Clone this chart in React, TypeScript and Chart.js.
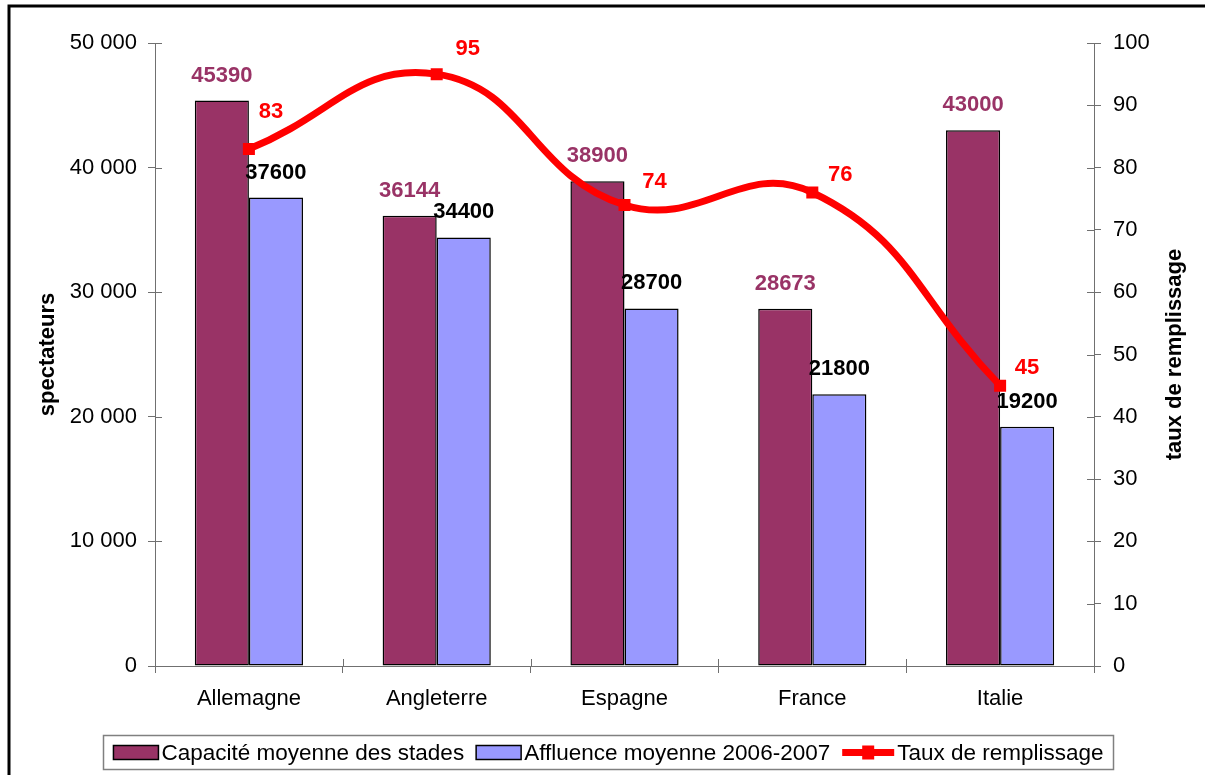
import React, { useEffect, useRef } from "react";
import { Chart, registerables } from "chart.js";

Chart.register(...registerables);

const categories = ["Allemagne", "Angleterre", "Espagne", "France", "Italie"];
const capacite = [45390, 36144, 38900, 28673, 43000];
const affluence = [37600, 34400, 28700, 21800, 19200];
const taux = [83, 95, 74, 76, 45];
const leftTickValues = [0, 10000, 20000, 30000, 40000, 50000];
const rightTickValues = [0, 10, 20, 30, 40, 50, 60, 70, 80, 90, 100];
const seriesNames = [
  "Capacité moyenne des stades",
  "Affluence moyenne 2006-2007",
  "Taux de remplissage",
];
const axisTitles = ["spectateurs", "taux de remplissage"];

// style config (label offsets relative to points)
const lineLabelOffsets = [
  [22, -37],
  [31, -25],
  [30, -23],
  [28, -18],
  [27, -18],
];

const FONT = "'Liberation Sans', Arial, sans-serif";
const COL_CAP = "#993366";
const COL_AFF = "#9999FF";
const COL_LINE = "#FF0000";
const AXIS_COL = "#707070";

const fmtThousands = (v: number) =>
  String(v).replace(/\B(?=(\d{3})+(?!\d))/g, " ");

const decorPlugin = {
  id: "decor",
  afterDatasetsDraw(chart: any) {
    const ctx = chart.ctx;
    const area = chart.chartArea;
    ctx.save();
    // inward parts of cross tick marks
    ctx.strokeStyle = AXIS_COL;
    ctx.lineWidth = 1;
    const ys = chart.scales.y;
    leftTickValues.forEach((v) => {
      const py = Math.round(ys.getPixelForValue(v)) + 0.5;
      ctx.beginPath();
      ctx.moveTo(area.left, py);
      ctx.lineTo(area.left + 7, py);
      ctx.stroke();
    });
    const y1 = chart.scales.y1;
    rightTickValues.forEach((v) => {
      const py = Math.round(y1.getPixelForValue(v)) + 0.5;
      ctx.beginPath();
      ctx.moveTo(area.right - 7, py);
      ctx.lineTo(area.right, py);
      ctx.stroke();
    });
    const xs = chart.scales.x;
    const step = (area.right - area.left) / categories.length;
    for (let i = 0; i <= categories.length; i++) {
      const px = Math.round(xs.getPixelForValue(0) - step / 2 + i * step) + 0.5;
      ctx.beginPath();
      ctx.moveTo(px, area.bottom - 7);
      ctx.lineTo(px, area.bottom);
      ctx.stroke();
    }

    // data labels
    ctx.font = `bold 22px ${FONT}`;
    ctx.textAlign = "center";
    ctx.textBaseline = "middle";
    const m0 = chart.getDatasetMeta(0);
    m0.data.forEach((el: any, i: number) => {
      ctx.fillStyle = COL_CAP;
      ctx.fillText(String(capacite[i]), el.x, el.y - 25);
    });
    const m1 = chart.getDatasetMeta(1);
    m1.data.forEach((el: any, i: number) => {
      ctx.fillStyle = "#000000";
      ctx.fillText(String(affluence[i]), el.x, el.y - 25);
    });
    const m2 = chart.getDatasetMeta(2);
    m2.data.forEach((el: any, i: number) => {
      ctx.fillStyle = COL_LINE;
      const o = lineLabelOffsets[i];
      ctx.fillText(String(taux[i]), el.x + o[0], el.y + o[1]);
    });
    ctx.restore();
  },
  afterDraw(chart: any) {
    const ctx = chart.ctx;
    const area = chart.chartArea;
    ctx.save();
    // axis titles
    ctx.font = `bold 22px ${FONT}`;
    ctx.fillStyle = "#000";
    ctx.textAlign = "center";
    ctx.textBaseline = "middle";
    const midY = (area.top + area.bottom) / 2;
    ctx.save();
    ctx.translate(48, midY);
    ctx.rotate(-Math.PI / 2);
    ctx.fillText(axisTitles[0], 0, 0);
    ctx.restore();
    ctx.save();
    ctx.translate(1175, midY);
    ctx.rotate(-Math.PI / 2);
    ctx.fillText(axisTitles[1], 0, 0);
    ctx.restore();

    // legend
    const boxL = 103.5,
      boxT = 735.5,
      boxR = 1113.5,
      boxB = 769.5;
    ctx.fillStyle = "#fff";
    ctx.fillRect(boxL, boxT, boxR - boxL, boxB - boxT);
    ctx.strokeStyle = "#808080";
    ctx.lineWidth = 1.5;
    ctx.strokeRect(boxL, boxT, boxR - boxL, boxB - boxT);
    ctx.font = `22.5px ${FONT}`;
    ctx.textAlign = "left";
    ctx.textBaseline = "middle";
    const cy = (boxT + boxB) / 2;
    const swW = 45,
      swH = 14,
      gapText = 3,
      gapItem = 12;
    const widths = seriesNames.map((n) => ctx.measureText(n).width);
    const lineW = 52;
    const total =
      swW + gapText + widths[0] + gapItem + swW + gapText + widths[1] + gapItem + lineW + gapText + widths[2];
    let x = (boxL + boxR) / 2 - total / 2;
    const swatch = (c: string) => {
      ctx.fillStyle = c;
      ctx.fillRect(x, cy - swH / 2, swW, swH);
      ctx.strokeStyle = "#000";
      ctx.lineWidth = 1.5;
      ctx.strokeRect(x, cy - swH / 2, swW, swH);
    };
    swatch(COL_CAP);
    x += swW + gapText;
    ctx.fillStyle = "#000";
    ctx.fillText(seriesNames[0], x, cy + 1);
    x += widths[0] + gapItem;
    swatch(COL_AFF);
    x += swW + gapText;
    ctx.fillStyle = "#000";
    ctx.fillText(seriesNames[1], x, cy + 1);
    x += widths[1] + gapItem;
    ctx.strokeStyle = COL_LINE;
    ctx.lineWidth = 7;
    ctx.beginPath();
    ctx.moveTo(x, cy);
    ctx.lineTo(x + lineW, cy);
    ctx.stroke();
    ctx.fillStyle = COL_LINE;
    ctx.fillRect(x + lineW / 2 - 6, cy - 7, 12, 14);
    x += lineW + gapText;
    ctx.fillStyle = "#000";
    ctx.fillText(seriesNames[2], x, cy + 1);

    // outer frame
    ctx.strokeStyle = "#000";
    ctx.lineWidth = 3;
    ctx.beginPath();
    ctx.moveTo(9, 800);
    ctx.lineTo(9, 6);
    ctx.lineTo(1300, 6);
    ctx.stroke();
    ctx.restore();
  },
};

export default function App() {
  const ref = useRef<HTMLCanvasElement | null>(null);
  useEffect(() => {
    document.body.style.margin = "0";
    document.body.style.overflow = "hidden";
    if (!ref.current) return;
    const chart = new Chart(ref.current, {
      type: "bar",
      data: {
        labels: categories,
        datasets: [
          {
            label: seriesNames[0],
            data: capacite,
            backgroundColor: COL_CAP,
            borderColor: "#000",
            borderWidth: 1.5,
            borderSkipped: false,
            categoryPercentage: 0.576,
            barPercentage: 1,
            yAxisID: "y",
            order: 2,
          },
          {
            label: seriesNames[1],
            data: affluence,
            backgroundColor: COL_AFF,
            borderColor: "#000",
            borderWidth: 1.5,
            borderSkipped: false,
            categoryPercentage: 0.576,
            barPercentage: 1,
            yAxisID: "y",
            order: 2,
          },
          {
            type: "line",
            label: seriesNames[2],
            data: taux,
            borderColor: COL_LINE,
            borderWidth: 7,
            tension: 0.45,
            pointStyle: "rect",
            pointRadius: 8.5,
            pointBackgroundColor: COL_LINE,
            pointBorderWidth: 0,
            yAxisID: "y1",
            order: 0,
          } as any,
        ],
      },
      options: {
        animation: false,
        responsive: false,
        devicePixelRatio: 1,
        layout: { padding: { top: 43, bottom: 49, left: 0, right: 0 } },
        plugins: { legend: { display: false }, tooltip: { enabled: false } },
        scales: {
          x: {
            offset: true,
            grid: { offset: true, drawOnChartArea: false, tickLength: 7, color: AXIS_COL },
            border: { color: AXIS_COL, width: 1 },
            ticks: { font: { family: FONT, size: 22 }, color: "#000", padding: 13, maxRotation: 0 },
            afterFit: (s: any) => {
              s.height = 60;
            },
          },
          y: {
            position: "left",
            min: 0,
            max: 50000,
            afterBuildTicks: (s: any) => {
              s.ticks = leftTickValues.map((v) => ({ value: v }));
            },
            grid: { drawOnChartArea: false, tickLength: 7, color: AXIS_COL },
            border: { color: AXIS_COL, width: 1 },
            ticks: {
              font: { family: FONT, size: 22 },
              color: "#000",
              padding: 11,
              callback: (v: any) => fmtThousands(Number(v)),
            },
            afterFit: (s: any) => {
              s.width = 155;
            },
          },
          y1: {
            position: "right",
            min: 0,
            max: 100,
            afterBuildTicks: (s: any) => {
              s.ticks = rightTickValues.map((v) => ({ value: v }));
            },
            grid: { drawOnChartArea: false, tickLength: 7, color: AXIS_COL },
            border: { color: AXIS_COL, width: 1 },
            ticks: { font: { family: FONT, size: 22 }, color: "#000", padding: 12 },
            afterFit: (s: any) => {
              s.width = 111;
            },
          },
        },
      },
      plugins: [decorPlugin],
    });
    return () => chart.destroy();
  }, []);
  return (
    <div style={{ position: "fixed", left: 0, top: 0, width: 1205, height: 775, background: "#fff" }}>
      <canvas ref={ref} width={1205} height={775} style={{ display: "block" }} />
    </div>
  );
}
